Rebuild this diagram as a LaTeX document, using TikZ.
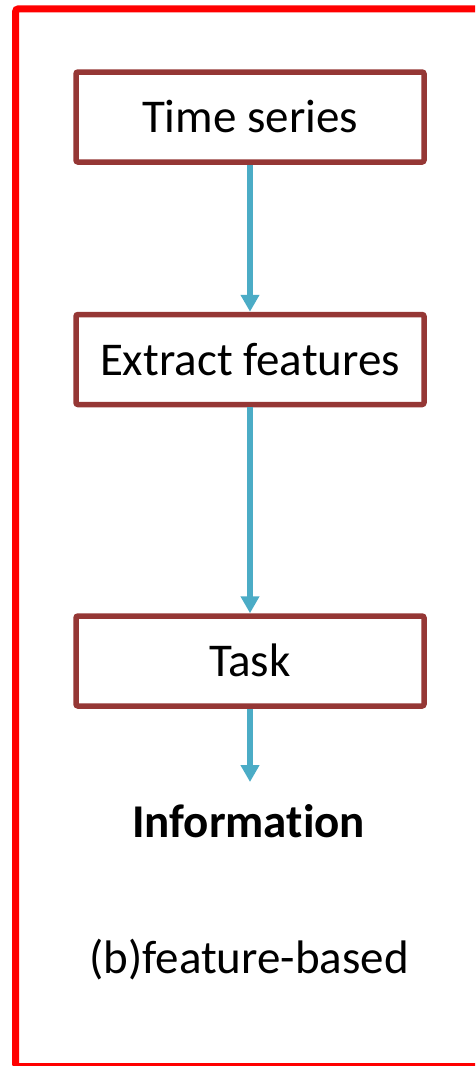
\documentclass[tikz,border=0pt]{standalone}
\usepackage{fontspec}
\setmainfont[RawFeature={-liga}]{Carlito}
\usetikzlibrary{arrows.meta}
\definecolor{boxred}{HTML}{953735}
\definecolor{arrowblue}{HTML}{4BACC6}
\definecolor{framered}{HTML}{FF0000}
\tikzset{
  stepbox/.style={draw=boxred, line width=5.5pt, rounded corners=2pt, fill=white,
    minimum width=348pt, minimum height=90pt, inner sep=0pt,
    text height=31pt, text depth=0pt, font=\fontsize{47}{56}\selectfont},
  flow/.style={draw=arrowblue, line width=5.5pt, -{Triangle[length=17pt,width=18pt]}},
  plainlabel/.style={anchor=base, inner sep=0pt, font=\fontsize{47}{56}\selectfont}
}
\begin{document}
\begin{tikzpicture}[x=1pt,y=-1pt]
\useasboundingbox (0,0) rectangle (475,1066);
\clip (0,0) rectangle (475,1066);
\draw[framered, line width=7pt, rounded corners=3pt] (15.5,8.8) rectangle (490,1066.5);
\node[stepbox] (ts) at (250,117) {Time series};
\node[stepbox] (ef) at (250,359.5) {Extract features};
\node[stepbox] (task) at (250,661) {Task};
\coordinate (infotip) at (250,782);
\node[plainlabel, font=\fontsize{47}{56}\selectfont\bfseries] (info) at (248.5,837) {Information};
\node[plainlabel] (cap) at (249,973) {(b)feature-based};
\draw[flow] (ts.south) -- (ef.north);
\draw[flow] (ef.south) -- (task.north);
\draw[flow] (task.south) -- (infotip);
\end{tikzpicture}
\end{document}
